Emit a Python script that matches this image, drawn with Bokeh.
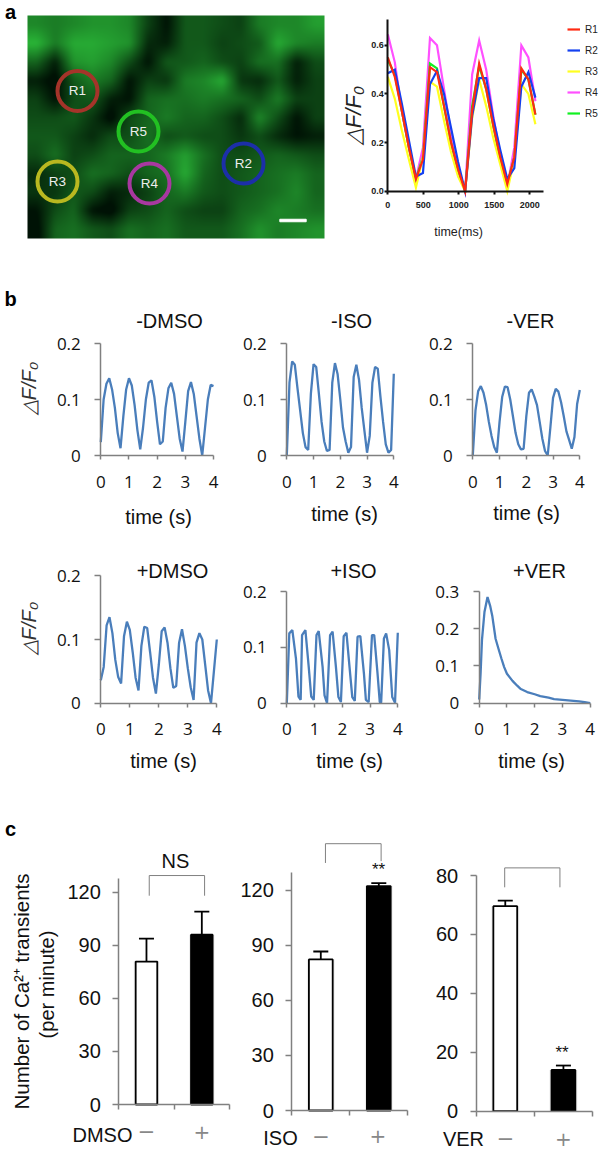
import numpy as np
from math import pi
from bokeh.plotting import figure
from bokeh.layouts import column, row
from bokeh.models import (Range1d, FixedTicker, Label, Legend, LegendItem, Whisker, TeeHead,
                          ColumnDataSource)
from bokeh.embed import file_html
from bokeh.resources import INLINE

# ---------- panel a: traces
A_T = [0,99,198,297,396,495,594,693,792,891,990,1089,1188,1287,1386,1485,1584,1683,1782,1881,1980,2079]
R1 = [.55,.47,.33,.18,.05,.13,.51,.49,.35,.20,.09,0,.33,.525,.42,.27,.14,.03,.14,.505,.46,.315]
R2 = [.485,.50,.36,.21,.06,.075,.44,.495,.40,.26,.12,0,.31,.465,.465,.30,.17,.05,.095,.43,.49,.385]
R3 = [.47,.38,.25,.13,.015,.14,.45,.43,.29,.16,.06,0,.30,.46,.35,.22,.11,0,.13,.44,.40,.275]
R4 = [.645,.53,.33,.18,.05,.18,.63,.60,.42,.24,.10,0,.48,.62,.50,.31,.15,.02,.18,.60,.55,.37]
R5 = [.54,.48,.33,.18,.05,.14,.525,.505,.35,.20,.08,0,.35,.515,.42,.27,.13,.03,.14,.50,.46,.315]
R_NAMES = ["R1","R2","R3","R4","R5"]
R_COLORS = ["#ff2a12","#1440f0","#ffff20","#ff50ff","#10f020"]
# micrograph brightness, read cell by cell
PHOTO = [
 [.6,.55,.6,.65,.65,.6,.3,.1,.4,.4,.35,.3,.55,.6,.6,.7],
 [.8,.55,.75,.75,.7,.65,.2,.15,.4,.4,.3,.35,.4,.75,.6,.55],
 [.45,.15,.65,.7,.6,.35,.1,.4,.4,.45,.35,.3,.5,.5,.15,.35],
 [.15,.05,.4,.55,.45,.1,.3,.25,.55,.6,.75,.25,.2,.4,.15,.3],
 [.3,.1,.35,.4,.15,.1,.45,.5,.5,.55,.5,.45,.35,.55,.3,.3],
 [.35,.35,.4,.25,.05,.35,.45,.55,.45,.45,.35,.2,.6,.35,.1,.3],
 [.4,.4,.3,.2,.35,.35,.5,.35,.4,.35,.35,.25,.35,.2,.1,.15],
 [.35,.5,.3,.35,.45,.45,.45,.55,.7,.5,.35,.35,.4,.45,.4,.35],
 [.2,.3,.35,.5,.45,.35,.45,.5,.75,.45,.35,.4,.45,.5,.55,.45],
 [.25,.25,.4,.35,.15,.2,.3,.45,.55,.4,.35,.4,.45,.5,.6,.45],
 [.1,.35,.45,.1,.05,.3,.35,.45,.35,.3,.3,.45,.5,.6,.55,.5],
 [.05,.45,.5,.4,.35,.5,.45,.5,.4,.4,.4,.5,.65,.55,.6,.65],
]
RING_X = [77,243,57,149,138]
RING_Y = [90.5,163,181,183,131]
RING_COLORS = ["#a5342a","#1c2fa8","#b9b820","#a838a0","#22c022"]

# ---------- panel b: traces
T10 = [0,.1,.2,.3,.4,.5,.6,.7,.8,.9,1,1.1,1.2,1.3,1.4,1.5,1.6,1.7,1.8,1.9,2,2.1,2.2,2.3,2.4,2.5,2.6,2.7,2.8,2.9,3,3.1,3.2,3.3,3.4,3.5,3.6,3.7,3.8,3.9,4]
M_DMSO = [.024,.10,.128,.138,.118,.085,.04,.013,.07,.118,.138,.125,.09,.045,.011,.05,.10,.13,.134,.105,.06,.02,.025,.085,.12,.13,.11,.07,.03,.007,.06,.115,.131,.11,.07,.03,0,.05,.10,.126,.124]
M_ISO = [0,.13,.168,.162,.12,.08,.04,.015,.01,.11,.163,.158,.11,.06,.025,.008,.01,.13,.165,.145,.10,.05,.025,.005,.015,.14,.162,.135,.085,.045,.005,.035,.13,.158,.155,.105,.06,.02,.005,.01,.146]
M_VER = [0,.08,.115,.124,.112,.09,.06,.035,.015,.005,.06,.105,.123,.122,.10,.07,.04,.02,.011,.012,.07,.112,.118,.105,.09,.06,.03,.008,0,.05,.103,.119,.114,.095,.07,.043,.028,.012,.033,.092,.117]
P_DMSO = [.036,.057,.122,.135,.11,.068,.041,.031,.105,.128,.115,.08,.04,.02,.09,.12,.118,.08,.04,.015,.06,.113,.119,.095,.055,.024,.027,.095,.116,.09,.055,.025,.005,.095,.11,.10,.06,.02,0,.05,.10]
P_ISO_T = [0,.09,.2,.33,.42,.5,.55,.67,.79,.88,.97,1.07,1.15,1.29,1.36,1.45,1.56,1.65,1.77,1.86,1.95,2.05,2.15,2.26,2.36,2.45,2.55,2.65,2.78,2.85,2.95,3.07,3.15,3.27,3.35,3.4,3.5,3.58,3.69,3.8,3.9,4]
P_ISO = [0,.125,.131,.08,.012,.006,.122,.131,.065,.012,.006,.122,.129,.065,.014,0,.122,.128,.065,.011,.002,.12,.126,.065,.011,.004,.119,.12,.053,.006,.002,.122,.122,.053,.002,.001,.116,.125,.095,.011,.001,.126]
P_VER_T = [0,.05,.1,.19,.3,.4,.47,.59,.7,.8,.9,1,1.2,1.37,1.5,1.73,2,2.2,2.5,2.7,3,3.3,3.6,3.8,4]
P_VER = [.01,.08,.17,.245,.285,.26,.235,.173,.145,.12,.097,.079,.06,.047,.038,.03,.024,.019,.015,.011,.009,.007,.005,.003,0]

# ---------- panel c: bars
C_X = [.5,1.5]
C1_VAL = [80.8,96]; C1_ERR = [93.8,109]
C2_VAL = [82.4,122.4]; C2_ERR = [86.7,124]
C3_VAL = [69.6,14]; C3_ERR = [71.5,15.5]
BAR_FILL = ["white","black"]

GRAY = "#808080"
AR = "Liberation Sans"
CAL = "Open Sans"
BLUE = "#4a7ebb"


def mk(cell, frame, xd, yd):
    """cell=(x0,y0,x1,y1) figure box in page pixels; frame=(l,t,r,b) pixels that data extents xd,yd occupy.
    The plot area fills the whole cell; axes are fixed on the data origin."""
    x0, y0, x1, y1 = cell
    l, t, r, b = frame
    sx = (xd[1]-xd[0])/(r-l); sy = (yd[1]-yd[0])/(b-t)
    xr = (xd[0]+(x0-l)*sx, xd[0]+(x1-l)*sx)
    yr = (yd[0]+(b-y1)*sy, yd[0]+(b-y0)*sy)
    p = figure(width=x1-x0, height=y1-y0, output_backend="svg", toolbar_location=None,
               x_range=Range1d(*xr), y_range=Range1d(*yr),
               min_border_left=0, min_border_right=0, min_border_top=0, min_border_bottom=0)
    p.grid.visible = False
    p.outline_line_color = None
    p.background_fill_color = None
    p.border_fill_color = None
    p._box = (x0, y0, x1, y1, xr, yr)
    return p


def lab(p, px, py, text, size=18, font=AR, color="#111111", angle=0, style="normal"):
    """Annotation text positioned by its page pixel centre."""
    l, t, r, b, xr, yr = p._box
    x = xr[0] + (px-l)/(r-l)*(xr[1]-xr[0])
    y = yr[0] + (b-py)/(b-t)*(yr[1]-yr[0])
    p.add_layout(Label(x=x, y=y, text=text, text_font=font, text_font_size=f"{size}px",
                       text_color=color, text_align="center", text_baseline="middle",
                       angle=angle, text_font_style=style))


def style_axes(p, xt, yt, yover, xb, yb, color=GRAY, lw=1.5, ts_x=4, ts_y=6):
    p.xaxis.ticker = FixedTicker(ticks=xt)
    p.yaxis.ticker = FixedTicker(ticks=yt)
    p.yaxis.major_label_overrides = yover
    p.xaxis.fixed_location = 0
    p.yaxis.fixed_location = 0
    p.xaxis.bounds = xb
    p.yaxis.bounds = yb
    for ax in (p.xaxis[0], p.yaxis[0]):
        ax.axis_line_color = color
        ax.major_tick_line_color = color
        ax.axis_line_width = lw
        ax.major_tick_line_width = lw
        ax.major_tick_in = 0
        ax.minor_tick_line_color = None
    p.xaxis.major_tick_out = ts_x
    p.yaxis.major_tick_out = ts_y


# ---------- row a
pa = figure(width=335, height=264, output_backend="svg", toolbar_location=None,
            x_range=Range1d(0,335), y_range=Range1d(264,0),
            min_border_left=0, min_border_right=0, min_border_top=0, min_border_bottom=0)
pa.grid.visible = False
pa.outline_line_color = None
pa._box = (0,0,335,264,(0,335),(264,0))
g = np.array(PHOTO)
# smooth enlargement of the brightness grid, then a soft blur
H, W = 223, 297
yi = np.clip((np.arange(H)+.5)/H*g.shape[0]-.5,0,g.shape[0]-1)
xi = np.clip((np.arange(W)+.5)/W*g.shape[1]-.5,0,g.shape[1]-1)
y0 = np.minimum(yi.astype(int),g.shape[0]-2); x0 = np.minimum(xi.astype(int),g.shape[1]-2)
fy = (yi-y0)[:,None]; fx = (xi-x0)[None,:]
big = (g[y0][:,x0]*(1-fx)*(1-fy)+g[y0][:,x0+1]*fx*(1-fy)+g[y0+1][:,x0]*(1-fx)*fy+g[y0+1][:,x0+1]*fx*fy)
kernel = np.ones(5)/5
for _ in range(2):
    pad = np.pad(big, 2, mode="edge")
    big = np.apply_along_axis(lambda m: np.convolve(m, kernel, mode="valid"), 1, pad)[2:-2]
    pad = np.pad(big, 2, mode="edge")
    big = np.apply_along_axis(lambda m: np.convolve(m, kernel, mode="valid"), 0, pad)[:,2:-2]
big = np.clip((big-.38)*1.2+.34,0,1)
rgba = np.zeros((H,W),dtype=np.uint32)
v = rgba.view(dtype=np.uint8).reshape((H,W,4))
v[:,:,0] = (big*50).astype(np.uint8)
v[:,:,1] = (18+big*195).astype(np.uint8)
v[:,:,2] = (5+big*60).astype(np.uint8)
v[:,:,3] = 255
pa.image_rgba(image=[rgba], x=27, y=15, dw=297, dh=223)
pa.scatter(RING_X, RING_Y, size=40, marker="circle", fill_color=None, line_color=RING_COLORS, line_width=4)
for n,x,y in zip(R_NAMES,RING_X,RING_Y):
    lab(pa, x, y-.5, n, size=13.5, color="#eeeeee")
pa.rect([292.5],[220],width=26.4,height=2.5,color="white")
pa.axis.visible = False
lab(pa, 10, 11, "a", size=20, color="black", style="bold")

pa2 = mk((335,0,601,264), (387.3,19.3,543,190.7), (0,2193), (0,.705))
style_axes(pa2, [0,500,1000,1500,2000], [0,.2,.4,.6], {0:"0.0",.2:"0.2",.4:"0.4",.6:"0.6"},
           (0,2193), (0,.705), color="#111111", lw=2, ts_x=3, ts_y=3)
for ax in (pa2.xaxis[0], pa2.yaxis[0]):
    ax.major_label_text_font = AR
    ax.major_label_text_font_size = "9px"
    ax.major_label_text_font_style = "bold"
    ax.major_label_text_color = "#222222"
pa2.yaxis.major_label_standoff = 1
pa2.xaxis.major_label_standoff = 8
items = {}
for n,c,vals in [("R4",R_COLORS[3],R4),("R5",R_COLORS[4],R5),("R3",R_COLORS[2],R3),("R2",R_COLORS[1],R2),("R1",R_COLORS[0],R1)]:
    items[n] = pa2.line(A_T, vals, line_color=c, line_width=2.2, line_join="miter")
lg = Legend(items=[LegendItem(label=n, renderers=[items[n]]) for n in R_NAMES],
            location=(232,141), border_line_color=None, background_fill_alpha=0,
            glyph_width=13, glyph_height=20, label_height=20, spacing=1, padding=0, margin=0,
            label_standoff=5, label_text_font=AR, label_text_font_size="10px", label_text_color="#222222")
pa2.add_layout(lg, "center")
lab(pa2, 353, 115, "△F/F₀", size=22, color="#222222", angle=pi/2, style="italic")
lab(pa2, 458, 231, "time(ms)", size=12.5, font=AR, color="#222222")


# ---------- rows b
def trace(cell, frame, t, vals, title, tpos, labpos, yt, yover, ymax):
    p = mk(cell, frame, (0,4), (0,ymax))
    style_axes(p, [0,1,2,3,4], yt, yover, (0,4), (0,ymax))
    for ax in (p.xaxis[0], p.yaxis[0]):
        ax.major_label_text_font = CAL
        ax.major_label_text_font_size = "17px"
        ax.major_label_text_color = "#111111"
    p.xaxis.major_label_standoff = 16
    p.yaxis.major_label_standoff = 14
    p.line(t, vals, line_color=BLUE, line_width=2.3)
    lab(p, tpos[0], tpos[1], title, size=20)
    lab(p, labpos[0], labpos[1], "time (s)", size=20)
    return p

Y2 = [0,.1,.2]; O2 = {0:"0",.1:"0.1",.2:"0.2"}
Y3 = [0,.1,.2,.3]; O3 = {0:"0",.1:"0.1",.2:"0.2",.3:"0.3"}
C_A, C_B, C_C = (0,235), (235,420), (420,601)
b1 = trace((C_A[0],264,C_A[1],530), (100.3,343,213,455), T10, M_DMSO, "-DMSO", (169,320), (158,516), Y2, O2, .2)
b2 = trace((C_B[0],264,C_B[1],530), (286.3,343,393.3,455), T10, M_ISO, "-ISO", (351,320), (344,513), Y2, O2, .2)
b3 = trace((C_C[0],264,C_C[1],530), (472.3,343,579.3,455), T10, M_VER, "-VER", (530,320), (526,512), Y2, O2, .2)
b4 = trace((C_A[0],530,C_A[1],790), (100.3,575.3,216.3,702.7), T10, P_DMSO, "+DMSO", (172,570), (163,760), Y2, O2, .2)
b5 = trace((C_B[0],530,C_B[1],790), (286.3,591,397.3,702.7), P_ISO_T, P_ISO, "+ISO", (353,570), (349,760), Y2, O2, .2)
b6 = trace((C_C[0],530,C_C[1],790), (478.7,591,589.7,702.7), P_VER_T, P_VER, "+VER", (539,570), (531,760), Y3, O3, .3)
lab(b1, 10, 298, "b", size=20, color="black", style="bold")
lab(b1, 28, 388, "△F/F₀", size=20, color="#333333", angle=pi/2, style="italic")
lab(b4, 28, 628, "△F/F₀", size=20, color="#333333", angle=pi/2, style="italic")


# ---------- row c
def bars(cell, frame, yd, axtop, yt, vals, errs, bw, name, npos, mpos, ppos, br_x, br_y, capw):
    p = mk(cell, frame, (0,2), yd)
    style_axes(p, [0,1,2], yt, {k:str(k) for k in yt}, (0,2), (0,axtop), ts_x=5, ts_y=6)
    p.xaxis.major_label_text_color = None
    p.yaxis.major_label_text_font = AR
    p.yaxis.major_label_text_font_size = "20px"
    p.yaxis.major_label_text_color = "#111111"
    p.yaxis.major_label_standoff = 12
    src = ColumnDataSource(dict(x=C_X, u=errs, l=vals))
    p.vbar(x=C_X, top=vals, bottom=0, width=bw+.07, fill_color="black", fill_alpha=.07, line_color=None)
    p.add_layout(Whisker(source=src, base="x", upper="u", lower="l", lower_head=None,
                         upper_head=TeeHead(size=capw, line_color="black", line_width=1.8),
                         line_color="black", line_width=1.8))
    p.vbar(x=C_X, top=vals, bottom=0, width=bw, fill_color=BAR_FILL, line_color="black", line_width=1.8)
    p.line(br_x, br_y, line_color=GRAY, line_width=1)
    lab(p, npos[0], npos[1], name, size=20)
    lab(p, mpos[0], mpos[1], "−", size=21, color="#888888", font="DejaVu Sans")
    lab(p, ppos[0], ppos[1], "+", size=20, color="#888888", font="DejaVu Sans")
    return p

c1 = bars((C_A[0],790,C_A[1],1150), (118.3,860,229,1104), (0,137.9), 127.5, [0,30,60,90,120],
          C1_VAL, C1_ERR, .39, "DMSO", (102,1134), (146,1130.5), (201.5,1131),
          [.55,.55,1.55,1.55], [118,129.4,129.4,118], 15)
c2 = bars((C_B[0],790,C_B[1],1150), (291.3,830,407.3,1110), (0,152.7), 130, [0,30,60,90,120],
          C2_VAL, C2_ERR, .41, "ISO", (280,1137), (320.5,1135), (377.5,1135),
          [.58,.58,1.54,1.54], [135,145.5,145.5,136], 15)
c3 = bars((C_C[0],790,C_C[1],1150), (475.7,850,592,1110.7), (0,88.5), 80, [0,20,40,60,80],
          C3_VAL, C3_ERR, .41, "VER", (463,1138), (505,1137), (563,1138),
          [.49,.49,1.44,1.44], [76,82.6,82.6,76], 15)
lab(c1, 10, 828, "c", size=20, color="black", style="bold")
lab(c1, 175, 860, "NS", size=20)
lab(c1, 21, 991, "Number of Ca²⁺ transients", size=20.5, angle=pi/2)
lab(c1, 46, 984, "(per minute)", size=20, angle=pi/2)
lab(c2, 378, 869, "**", size=17)
lab(c3, 561.5, 1052, "**", size=17)

layout = column(row(pa, pa2, spacing=0), row(b1, b2, b3, spacing=0), row(b4, b5, b6, spacing=0),
                row(c1, c2, c3, spacing=0), spacing=0)
open("out.html", "w").write(file_html(layout, INLINE))
